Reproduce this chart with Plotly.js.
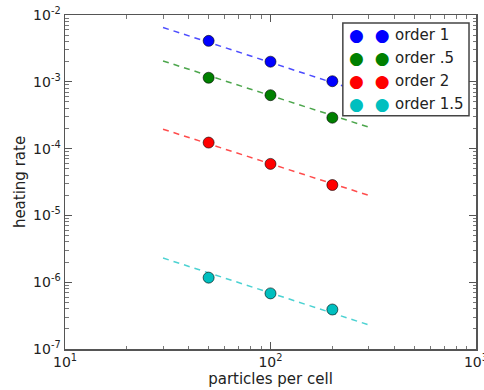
<!DOCTYPE html>
<html><head><meta charset="utf-8">
<script src="https://cdn.plot.ly/plotly-3.0.1.min.js"></script>
<style>html,body{margin:0;padding:0;background:#fff}#plot{width:484px;height:390px}</style>
</head><body><div id="plot"></div>
<script>
const xVals = [50, 100, 200];
const order1 = [4.1e-3, 2.0e-3, 1.02e-3];
const orderHalf = [1.15e-3, 6.3e-4, 2.9e-4];
const order2 = [1.23e-4, 5.9e-5, 2.85e-5];
const order15 = [1.17e-6, 6.8e-7, 3.9e-7];
const fitX = [30, 300];
const fit1 = [6.5e-3, 6.5e-4];
const fitHalf = [2.05e-3, 2.1e-4];
const fit2 = [1.95e-4, 2.0e-5];
const fit15 = [2.3e-6, 2.3e-7];
const names = ['order 1', 'order .5', 'order 2', 'order 1.5'];
const colors = ['#0000ff', '#008000', '#ff0000', '#00bfbf'];
const xTickVals = [10, 100, 1000];
const xTickText = ['10<sup>1</sup>', '10<sup>2</sup>', '10<sup>3</sup>'];
const yTickVals = [1e-7, 1e-6, 1e-5, 1e-4, 1e-3, 1e-2];
const yTickText = ['10<sup>-7</sup>', '10<sup>-6</sup>', '10<sup>-5</sup>', '10<sup>-4</sup>', '10<sup>-3</sup>', '10<sup>-2</sup>'];
const digits = [2, 3, 4, 5, 6, 7, 8, 9];

const series = [order1, orderHalf, order2, order15];
const fits = [fit1, fitHalf, fit2, fit15];
const font = 'DejaVu Sans, sans-serif';

const traces = [];
fits.forEach((f, i) => traces.push({
  x: fitX, y: f, mode: 'lines', showlegend: false, hoverinfo: 'skip',
  line: {color: colors[i], width: 1.5, dash: '6px,5px'}, opacity: 0.7
}));
series.forEach((s, i) => traces.push({
  x: xVals, y: s, mode: 'markers', name: names[i], showlegend: false,
  marker: {color: colors[i], size: 11, line: {color: '#000', width: 0.6}}
}));

const lx0 = 0.676, lx1 = 0.983, ly1 = 0.976, ly0 = 0.698;
const shapes = [{type: 'rect', xref: 'paper', yref: 'paper', x0: lx0, x1: lx1, y0: ly0, y1: ly1,
  fillcolor: '#fff', line: {color: '#444', width: 1.5}, layer: 'above'}];
const annotations = [];
const rowH = (ly1 - ly0) / 4;
names.forEach((n, i) => {
  const yc = ly1 - rowH * (i + 0.5);
  annotations.push({xref: 'paper', yref: 'paper', x: lx0 + 0.01, y: yc, xanchor: 'left', yanchor: 'middle',
    text: '●  ●', showarrow: false, font: {family: font, size: 17, color: colors[i]}});
  annotations.push({xref: 'paper', yref: 'paper', x: lx0 + 0.122, y: yc, xanchor: 'left', yanchor: 'middle',
    text: n, showarrow: false, font: {family: font, size: 15, color: '#222'}});
});

function minorVals(lo, hi) {
  const v = [];
  for (let e = lo; e < hi; e++) digits.forEach(d => v.push(d * Math.pow(10, e)));
  return v;
}

const axisCommon = {
  type: 'log', tickmode: 'array', showgrid: false, zeroline: false,
  ticks: 'inside', ticklen: 7, tickwidth: 1, tickcolor: '#555',
  showline: true, linecolor: '#555', linewidth: 1.5, mirror: 'ticks',
  ticklabeloverflow: 'allow',
  tickfont: {family: font, size: 14, color: '#222'}
};

const layout = {
  width: 484, height: 390,
  margin: {l: 65, r: 8, t: 15, b: 41},
  paper_bgcolor: '#fff', plot_bgcolor: '#fff',
  showlegend: false,
  xaxis: Object.assign({}, axisCommon, {range: [1, 3.0001], tickvals: xTickVals, ticktext: xTickText,
    minor: {tickmode: 'array', tickvals: minorVals(1, 3), ticks: 'inside', ticklen: 3.5, tickcolor: '#777', showgrid: false},
    title: {text: 'particles per cell', font: {family: font, size: 15, color: '#222'}, standoff: 3}}),
  yaxis: Object.assign({}, axisCommon, {range: [-7.0001, -2], tickvals: yTickVals, ticktext: yTickText,
    minor: {tickmode: 'array', tickvals: minorVals(-7, -2), ticks: 'inside', ticklen: 3.5, tickcolor: '#777', showgrid: false},
    title: {text: 'heating rate', font: {family: font, size: 15, color: '#222'}, standoff: 4}}),
  shapes: shapes, annotations: annotations
};

Plotly.newPlot('plot', traces, layout, {staticPlot: true, displayModeBar: false});
</script></body></html>
